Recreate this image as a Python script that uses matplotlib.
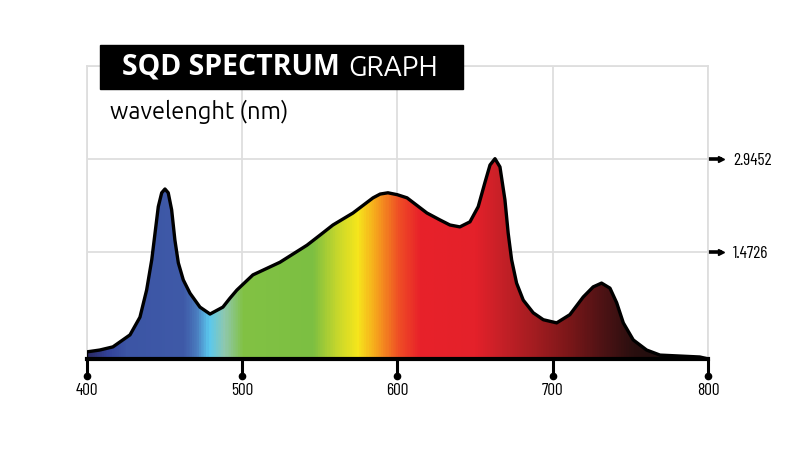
import numpy as np
import matplotlib.pyplot as plt
from matplotlib import font_manager
from matplotlib.font_manager import FontProperties
from matplotlib.colors import LinearSegmentedColormap
from matplotlib.patches import Polygon, Rectangle

# spectrum (wavelength in nm, relative intensity)
wavelength = [400, 408.5, 417, 428, 434.4, 438.7, 442, 444.1, 446.2, 448.4, 450.5, 452.6,
              454.8, 456.9, 459.1, 462.3, 466.6, 473, 479.5, 487.8, 492.3, 496.8, 507.1,
              524.5, 541.9, 550.3, 558.6, 571.5, 584.4, 589, 594, 600, 606.3, 619.1,
              627.5, 633.9, 640.3, 646.8, 652.1, 656.4, 659.7, 662.9, 666.1, 669.3,
              671.4, 673.6, 676.8, 681.1, 687.5, 694, 702.6, 711.1, 719.7, 726.1,
              731.5, 736.9, 741.2, 745.5, 751.9, 760.5, 769.1, 794.7, 800]
intensity = [-0.11, -0.08, -0.03, 0.16, 0.44, 0.87, 1.35, 1.77, 2.19, 2.41, 2.47, 2.41,
             2.14, 1.66, 1.30, 1.03, 0.82, 0.60, 0.49, 0.60, 0.74, 0.87, 1.11,
             1.31, 1.58, 1.74, 1.90, 2.09, 2.33, 2.39, 2.41, 2.38, 2.33, 2.09,
             1.98, 1.90, 1.87, 1.95, 2.19, 2.57, 2.85, 2.95, 2.82, 2.30,
             1.77, 1.35, 0.98, 0.71, 0.51, 0.40, 0.35, 0.48, 0.76, 0.92,
             0.98, 0.90, 0.67, 0.35, 0.08, -0.08, -0.16, -0.19, -0.22]

xticks = [400, 500, 600, 700, 800]
yticks = [1.4726, 2.9452]
ytick_labels = ['1.4726', '2.9452']

# colour of the light at each wavelength
color_nm = [400, 413, 425, 462, 470, 478, 488, 500, 545, 560, 574, 586, 600,
            614, 650, 668, 690, 710, 730, 752, 800]
color_hex = ['#2b2a66', '#33439a', '#3c55a5', '#3f5aa8', '#4a7cbf', '#5bc8ee', '#8fc8ae',
             '#82c244', '#7cbf42', '#c3d62d', '#f6e61c', '#f6a41d', '#ef5025',
             '#e8222a', '#e4212a', '#c42027', '#a01c20', '#7c1719', '#521315',
             '#2a0f0f', '#0d0d0d']

ymin, ymax = -0.222, 4.4178


def ubuntu(size):
    for f in font_manager.fontManager.ttflist:
        if f.fname.endswith('/Ubuntu-R.ttf'):
            return FontProperties(fname=f.fname, size=size)
    return FontProperties(family='Open Sans', size=size)


# no usable bold Ubuntu here, Open Sans Bold is close enough
bold_fp = FontProperties(family='Open Sans', weight='bold', size=20.5)
reg_fp = ubuntu(20)
sub_fp = ubuntu(17)
tick_font = dict(family=['Barlow Condensed', 'DejaVu Sans'], size=12.5)

fig = plt.figure(figsize=(8, 4.51), dpi=100)
ax = fig.add_axes([86.5 / 800, (451 - 359) / 451, (708 - 86.5) / 800, (359 - 66) / 451])
ax.set_xlim(400, 800)
ax.set_ylim(ymin, ymax)

# gradient fill clipped by the curve
pos = [(n - 400) / 400 for n in color_nm]
cmap = LinearSegmentedColormap.from_list('spec', list(zip(pos, color_hex)))
grad = np.linspace(0, 1, 800).reshape(1, -1)
im = ax.imshow(grad, cmap=cmap, extent=[400, 800, ymin, ymax], aspect='auto', zorder=2)
verts = [(400, ymin)] + list(zip(wavelength, intensity)) + [(800, ymin)]
poly = Polygon(verts, closed=True, facecolor='none', edgecolor='none')
ax.add_patch(poly)
im.set_clip_path(poly)
ax.plot([400] + wavelength, [ymin] + intensity, color='black', lw=2.4,
        solid_joinstyle='round', solid_capstyle='round', zorder=3)

# grid box
ax.set_xticks(xticks)
ax.set_yticks(yticks + [ymax])
ax.grid(color='#dedede', lw=1.3)
ax.set_axisbelow(True)
for s in ['left', 'top', 'right']:
    ax.spines[s].set_color('#dedede')
    ax.spines[s].set_linewidth(1.3)
ax.spines['bottom'].set_linewidth(3)
ax.spines['bottom'].set_zorder(4)

ax.set_xticklabels([str(t) for t in xticks], **tick_font)
ax.tick_params(axis='x', length=12, width=2.2, color='black', pad=5)
ax.plot(xticks, [-0.058] * len(xticks), 'o', ms=4.5, color='black',
        transform=ax.get_xaxis_transform(), clip_on=False)

ax.yaxis.tick_right()
ax.set_yticklabels(ytick_labels + [''], **tick_font)
ax.tick_params(axis='y', length=10, width=2.6, color='black', pad=8)
ax.yaxis.get_ticklines()[-1].set_visible(False)
ax.yaxis.get_ticklines()[-2].set_visible(False)
ax.plot([1.021] * len(yticks), yticks, '>', ms=4, color='black',
        transform=ax.get_yaxis_transform(), clip_on=False)

# title block
fig.patches.append(Rectangle((100 / 800, 1 - 89 / 451), 363 / 800, 44 / 451,
                             transform=fig.transFigure, color='black', zorder=5))
t1 = fig.text(122 / 800, 1 - 67 / 451, 'SQD SPECTRUM', color='white', fontproperties=bold_fp,
              va='center', zorder=6)
fig.canvas.draw()
bb = t1.get_window_extent()
fig.text((bb.x1 + 8) / 800, 1 - 67 / 451, 'GRAPH', color='white', fontproperties=reg_fp,
         va='center', zorder=6)
fig.text(110 / 800, 1 - 112 / 451, 'wavelenght (nm)', color='black', fontproperties=sub_fp,
         va='center')

fig.savefig('out.png', dpi=100)
